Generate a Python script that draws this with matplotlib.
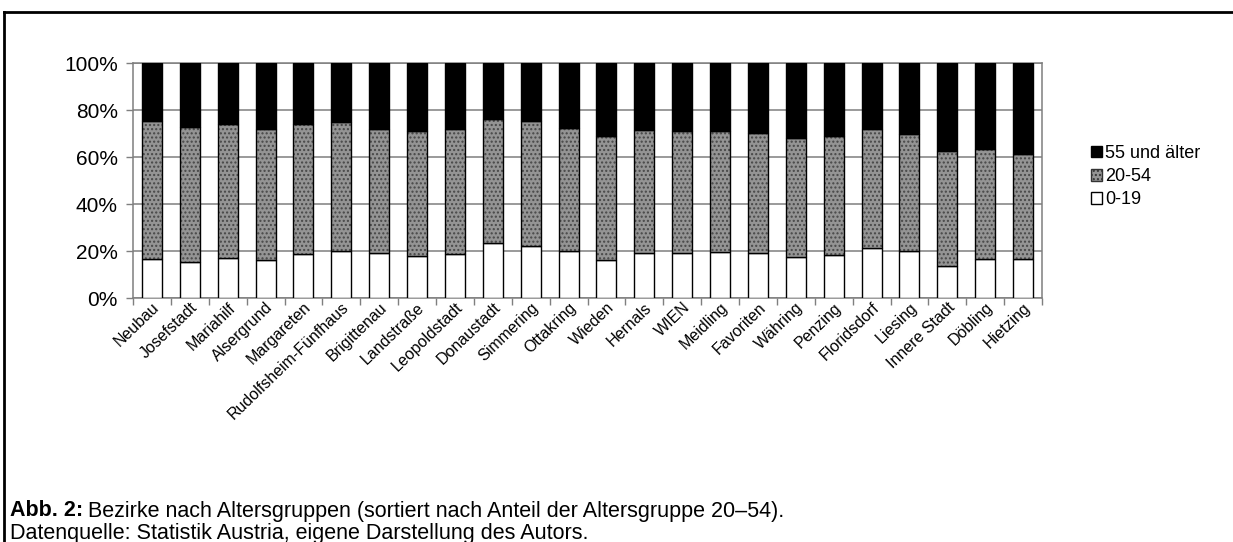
import matplotlib
matplotlib.use("Agg")
import matplotlib.pyplot as plt
import numpy as np
from matplotlib.lines import Line2D
from matplotlib.patches import Patch
from matplotlib.transforms import ScaledTranslation

plt.rcParams['font.family'] = ['Liberation Sans', 'DejaVu Sans']

districts = ["Neubau", "Josefstadt", "Mariahilf", "Alsergrund", "Margareten",
             "Rudolfsheim-Fünfhaus", "Brigittenau", "Landstraße", "Leopoldstadt",
             "Donaustadt", "Simmering", "Ottakring", "Wieden", "Hernals", "WIEN",
             "Meidling", "Favoriten", "Währing", "Penzing", "Floridsdorf", "Liesing",
             "Innere Stadt", "Döbling", "Hietzing"]
# shares in percent
age_0_19 = [16.7, 15.6, 17.0, 16.3, 18.7, 20.3, 19.1, 18.0, 18.7, 23.7, 22.3, 20.0,
            16.3, 19.4, 19.4, 19.9, 19.4, 17.7, 18.4, 21.6, 20.3, 13.9, 16.9, 16.9]
age_20_54 = [58.9, 57.4, 57.2, 55.9, 55.5, 54.9, 53.1, 53.1, 53.5, 52.6, 53.0, 52.6,
             52.8, 52.2, 51.9, 51.4, 50.8, 50.7, 50.7, 50.3, 49.6, 48.8, 46.6, 44.5]
age_55_plus = [round(100 - a - b, 1) for a, b in zip(age_0_19, age_20_54)]

series_labels = ["0-19", "20-54", "55 und älter"]
ytick_labels = ["0%", "20%", "40%", "60%", "80%", "100%"]

W, H = 1233, 542
fig = plt.figure(figsize=(W / 100, H / 100), dpi=100)
ax = fig.add_axes([133 / W, 1 - 298.3 / H, (1042 - 133) / W, (298.3 - 63.3) / H])

x = np.arange(len(districts))
bw = 0.53
a = np.array(age_0_19)
b = np.array(age_20_54)
c = np.array(age_55_plus)

grey = "#949494"
ax.bar(x, a, bw, color="white", edgecolor="black", linewidth=1.0, zorder=3)
ax.bar(x, b, bw, bottom=a, color=grey, edgecolor="#474747", hatch="....",
       linewidth=0, zorder=3)
ax.bar(x, b, bw, bottom=a, fill=False, edgecolor="black", linewidth=1.0, zorder=4)
ax.bar(x, c, bw, bottom=a + b, color="black", edgecolor="black", linewidth=1.0, zorder=3)

ax.set_xlim(-0.5, len(districts) - 0.5)
ax.set_ylim(0, 100)
ax.set_yticks([0, 20, 40, 60, 80, 100])
ax.set_yticklabels(ytick_labels, fontsize=15)
ax.yaxis.grid(True, color="#7f7f7f", linewidth=1.1, zorder=0)
ax.set_axisbelow(True)

ax.set_xticks(np.arange(len(districts) + 1) - 0.5)
ax.set_xticklabels([])
ax.set_xticks(x, minor=True)
ax.set_xticklabels(districts, minor=True, rotation=44, ha="right",
                   rotation_mode="anchor", fontsize=11.5)
shift = ScaledTranslation(-8 / 100, 0, fig.dpi_scale_trans)
for lbl in ax.get_xticklabels(minor=True):
    lbl.set_transform(lbl.get_transform() + shift)
ax.tick_params(axis="x", which="minor", length=0, pad=1)
ax.tick_params(axis="x", which="major", length=5, color="#7f7f7f", width=1)
ax.tick_params(axis="y", length=5, color="#7f7f7f", width=1, pad=6)
for s in ax.spines.values():
    s.set_color("#7f7f7f")
    s.set_linewidth(1.1)

handles = [Patch(facecolor="black", edgecolor="black"),
           Patch(facecolor=grey, edgecolor="#333333", hatch="...."),
           Patch(facecolor="white", edgecolor="black")]
fig.legend(handles, ["55 und älter", "20-54", "0-19"], loc="upper left",
           bbox_to_anchor=(1091 / W, 1 - 145 / H), frameon=False, fontsize=13,
           handlelength=0.62, handleheight=0.62, handletextpad=0.15,
           labelspacing=0.34, borderaxespad=0, borderpad=0)

# frame lines
fig.add_artist(Line2D([3.5 / W, 1], [1 - 12 / H, 1 - 12 / H], color="black",
                      linewidth=2, transform=fig.transFigure))
fig.add_artist(Line2D([3.5 / W, 3.5 / W], [0, 1 - 12 / H], color="black",
                      linewidth=2, transform=fig.transFigure))

cap_fs = 15.5
t1 = fig.text(10 / W, 1 - 511 / H, "Abb. 2:", fontsize=cap_fs, fontweight="bold", va="center")
fig.canvas.draw()
bb = t1.get_window_extent(renderer=fig.canvas.get_renderer())
fig.text(bb.x1 / W + 5 / W, 1 - 511 / H,
         "Bezirke nach Altersgruppen (sortiert nach Anteil der Altersgruppe 20–54).",
         fontsize=cap_fs, va="center")
fig.text(10 / W, 1 - 533 / H, "Datenquelle: Statistik Austria, eigene Darstellung des Autors.",
         fontsize=cap_fs, va="center")

fig.savefig("out.png", dpi=100)
